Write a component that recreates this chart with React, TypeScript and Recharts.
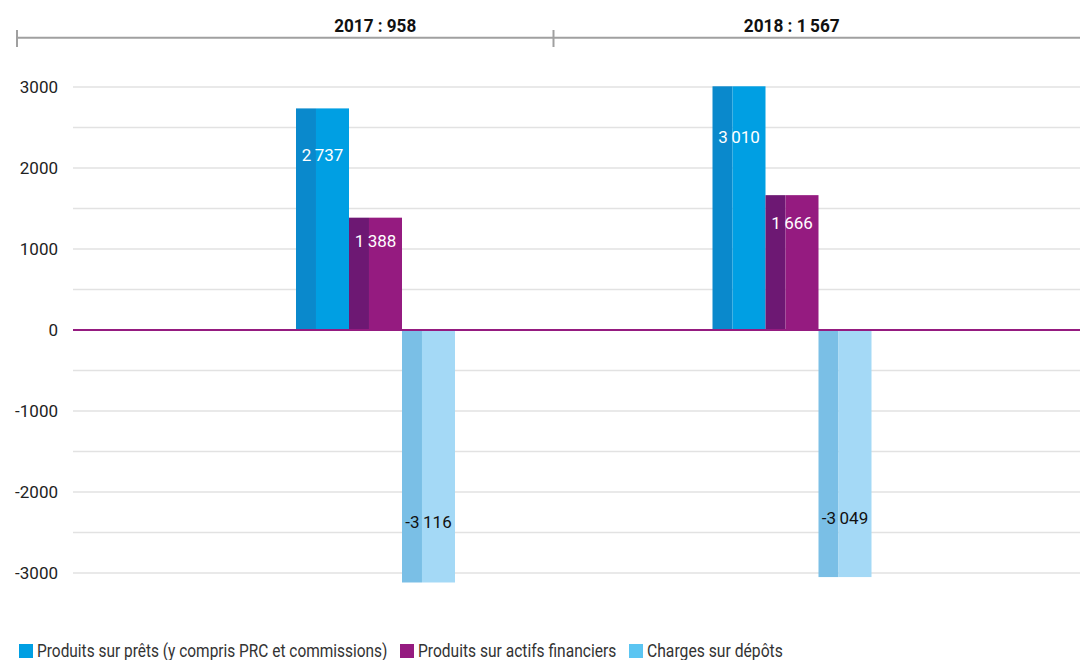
import React, { useLayoutEffect, useRef, useState } from 'react';
import { BarChart, Bar, XAxis, YAxis, CartesianGrid, ReferenceLine, LabelList } from 'recharts';

const categories = ['2017', '2018'];
const totals = [958, 1567];
const prets = [2737, 3010];
const actifs = [1388, 1666];
const depots = [-3116, -3049];
const yTicks = [-3000, -2500, -2000, -1500, -1000, -500, 0, 500, 1000, 1500, 2000, 2500, 3000];
const yDomain = [-3300, 3100];

const seriesNames = [
  'Produits sur prêts (y compris PRC et commissions)',
  'Produits sur actifs financiers',
  'Charges sur dépôts',
];
const legendColors = ['#009fe3', '#951b80', '#5bc5f2'];
const legendTextWidths = [350, 198, 136];
const headerTextWidths = [82, 96];

const fmt = (v: number) => {
  const s = Math.abs(v).toString().replace(/\B(?=(\d{3})+(?!\d))/g, '\u2009');
  return (v < 0 ? '-' : '') + s;
};

const data = categories.map((c, i) => ({
  cat: c,
  header: `${c} : ${fmt(totals[i])}`,
  prets: prets[i],
  actifs: actifs[i],
  depots: depots[i],
}));

const makeShape = (dark: string, light: string) => (props: any) => {
  const { x, y, width, height } = props;
  if (x == null || y == null) return null;
  const top = height < 0 ? y + height : y;
  const h = Math.abs(height);
  const w1 = width * 0.377;
  return (
    <g>
      <rect x={x} y={top} width={w1} height={h} fill={dark} />
      <rect x={x + w1} y={top} width={width - w1} height={h} fill={light} />
    </g>
  );
};

const renderLabel = (props: any) => {
  const vb = props.x != null ? props : props.viewBox || {};
  const { x, y, width, height } = vb;
  const value = Number(props.value);
  if (x == null) return null;
  const top = Math.min(y, y + height);
  const bottom = Math.max(y, y + height);
  const h = bottom - top;
  const cy = value >= 0 ? top + 0.21 * h : bottom - 0.24 * h;
  return (
    <text
      x={x + width / 2}
      y={cy}
      textAnchor="middle"
      dominantBaseline="central"
      fontFamily="Roboto, sans-serif"
      fontSize={17}
      fill={value >= 0 ? '#ffffff' : '#111111'}
    >
      {fmt(value)}
    </text>
  );
};

const HeaderTick = (props: any) => {
  const { x, y, payload, index } = props;
  return (
    <text
      x={x}
      y={y - 47}
      textAnchor="middle"
      fontFamily="Roboto, sans-serif"
      fontWeight={700}
      fontSize={18}
      fill="#111"
      textLength={headerTextWidths[index]}
      lengthAdjust="spacingAndGlyphs"
    >
      {payload.value}
    </text>
  );
};

const gridGen = (p: any) => {
  const sc = p && p.yAxis && p.yAxis.scale;
  if (typeof sc === 'function') return yTicks.map((t) => sc(t));
  if (sc && typeof sc.map === 'function') return yTicks.map((t) => sc.map(t));
  const off = p && p.offset;
  if (off && typeof off.top === 'number') {
    return yTicks.map((t) => off.top + ((yDomain[1] - t) / (yDomain[1] - yDomain[0])) * off.height);
  }
  return [];
};

function NarrowText({ text, width }: { text: string; width: number }) {
  const ref = useRef<HTMLSpanElement>(null);
  const [scale, setScale] = useState(1);
  useLayoutEffect(() => {
    if (ref.current) {
      const w = ref.current.offsetWidth;
      if (w > 0) setScale(width / w);
    }
  }, [text, width]);
  return (
    <span style={{ display: 'inline-block', width, height: 21, position: 'relative' }}>
      <span
        ref={ref}
        style={{
          position: 'absolute',
          left: 0,
          top: 0,
          whiteSpace: 'nowrap',
          fontFamily: 'Roboto, sans-serif',
          fontSize: 18,
          lineHeight: '21px',
          color: '#333',
          transform: `scaleX(${scale})`,
          transformOrigin: 'left center',
        }}
      >
        {text}
      </span>
    </span>
  );
}

export default function App() {
  return (
    <div style={{ position: 'relative', width: 1080, height: 652 }}>
      <BarChart
        width={1080}
        height={620}
        data={data}
        margin={{ top: 11, right: 0, bottom: 30.6, left: 0 }}
        barSize={53}
        barGap={0}
      >
        <CartesianGrid
          vertical={false}
          stroke="#e2e2e2"
          strokeWidth={1.5}
          horizontalCoordinatesGenerator={gridGen}
        />
        <XAxis dataKey="cat" hide padding={{ left: 94, right: 88 }} />
        <XAxis
          xAxisId="top"
          dataKey="header"
          orientation="top"
          height={60}
          padding={{ left: 94, right: 88 }}
          axisLine={false}
          tickLine={false}
          tickSize={0}
          tickMargin={0}
          tick={<HeaderTick />}
        />
        <YAxis
          width={65}
          domain={yDomain}
          ticks={yTicks}
          interval={0}
          allowDataOverflow
          axisLine={false}
          tickLine={false}
          tickMargin={9}
          tickFormatter={(v: number) => (v % 1000 === 0 ? String(v) : '')}
          tick={{ fontFamily: 'Roboto, sans-serif', fontSize: 17, fill: '#222' }}
        />
        <Bar dataKey="prets" isAnimationActive={false} shape={makeShape('#0a89cc', '#009fe3')}>
          <LabelList dataKey="prets" content={renderLabel} />
        </Bar>
        <Bar dataKey="actifs" isAnimationActive={false} shape={makeShape('#6d1873', '#951b80')}>
          <LabelList dataKey="actifs" content={renderLabel} />
        </Bar>
        <Bar dataKey="depots" isAnimationActive={false} shape={makeShape('#7abfe6', '#a4d9f6')}>
          <LabelList dataKey="depots" content={renderLabel} />
        </Bar>
        <ReferenceLine y={0} stroke="#951b80" strokeWidth={2} />
      </BarChart>
      <svg
        width={1080}
        height={60}
        style={{ position: 'absolute', left: 0, top: 0, pointerEvents: 'none' }}
      >
        <line x1={9} y1={29.7} x2={1080} y2={29.7} stroke="#a0a0a0" strokeWidth={2} />
        <line x1={9} y1={22} x2={9} y2={39} stroke="#a0a0a0" strokeWidth={2} />
        <line x1={545.5} y1={22} x2={545.5} y2={39} stroke="#a0a0a0" strokeWidth={2} />
      </svg>
      <div
        style={{
          position: 'absolute',
          left: 11,
          top: 632,
          display: 'flex',
          alignItems: 'center',
          whiteSpace: 'nowrap',
        }}
      >
        {seriesNames.map((n, i) => (
          <div key={n} style={{ display: 'flex', alignItems: 'center', marginRight: 13 }}>
            <span
              style={{
                display: 'inline-block',
                width: 14,
                height: 14,
                background: legendColors[i],
                marginRight: 4,
              }}
            />
            <NarrowText text={n} width={legendTextWidths[i]} />
          </div>
        ))}
      </div>
    </div>
  );
}
